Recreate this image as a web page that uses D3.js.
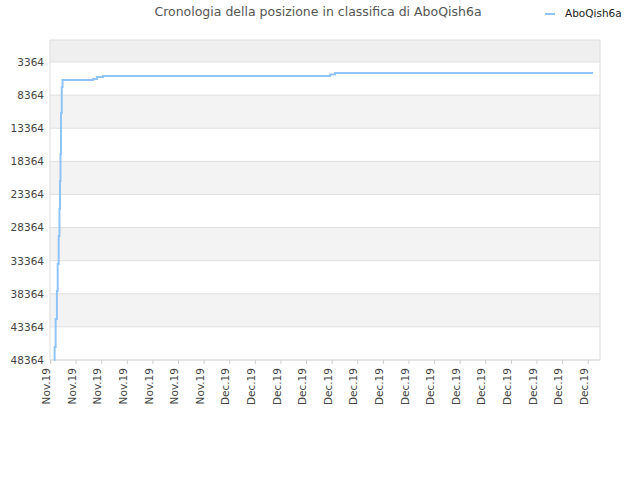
<!DOCTYPE html><html><head><script src="https://cdn.jsdelivr.net/npm/d3@7"></script>
<style>body{margin:0;background:#fff;font-family:"DejaVu Sans",sans-serif}</style></head><body><svg id="c" width="640" height="480"></svg>
<script>
const tickLabels=["Nov.19","Nov.19","Nov.19","Nov.19","Nov.19","Nov.19","Nov.19","Dec.19","Dec.19","Dec.19","Dec.19","Dec.19","Dec.19","Dec.19","Dec.19","Dec.19","Dec.19","Dec.19","Dec.19","Dec.19","Dec.19","Dec.19"];
const yTicks=[3364,8364,13364,18364,23364,28364,33364,38364,43364,48364];
const days=[0.16,0.18,0.2,0.22,0.25,0.27,0.3,0.34,0.37,0.39,0.41,0.43,0.46,0.49,0.5,0.53,0.55,1.64,1.68,1.84,2.07,10.78,10.94,11.13,21.21];
const ranks=[48364,46400,46400,42170,42170,37940,33870,29640,25560,21330,17250,11060,7140,6080,6080,6080,6080,6080,5930,5630,5480,5480,5250,5025,5025];
const svg=d3.select("#c");
const L=50,R=600,T=40,B=360;
const x=d3.scaleLinear().domain([0,21.48]).range([L,R]);
const y=d3.scaleLinear().domain([41,48364]).range([T,B]);
const edges=[41,...yTicks];
for(let i=0;i<edges.length-1;i++){
  if(i%2===0) svg.append("rect").attr("x",L).attr("width",R-L).attr("y",y(edges[i])).attr("height",y(edges[i+1])-y(edges[i])).attr("fill",i===0?"#efefef":"#f3f3f3");
}
yTicks.forEach(t=>svg.append("line").attr("x1",L).attr("x2",R).attr("y1",y(t)).attr("y2",y(t)).attr("stroke","#e0e0e0"));
svg.append("rect").attr("x",L).attr("y",T).attr("width",R-L).attr("height",B-T).attr("fill","none").attr("stroke","#ddd");
const ya=svg.append("g").attr("transform",`translate(${L},0)`).call(d3.axisLeft(y).tickValues(yTicks).tickSize(0).tickPadding(6).tickFormat(d3.format("d")));
ya.select(".domain").remove();
ya.selectAll("text").attr("font-size",10.5).attr("fill","#444").attr("font-family","DejaVu Sans");
const xa=svg.append("g").attr("transform",`translate(0,${B})`).call(d3.axisBottom(x).tickValues(d3.range(tickLabels.length)).tickSize(4).tickFormat(i=>tickLabels[i]));
xa.select(".domain").remove();
xa.selectAll("line").attr("stroke","#ccc");
xa.selectAll("text").attr("font-size",10.5).attr("fill","#444").attr("font-family","DejaVu Sans").attr("text-anchor","end").attr("transform","rotate(-90)").attr("x",-8).attr("y",-4).attr("dy","0.35em");
const pts=days.map((d,i)=>[d,ranks[i]]);
svg.append("path").datum(pts).attr("d",d3.line().x(d=>x(d[0])).y(d=>y(d[1])).curve(d3.curveStepAfter)).attr("fill","none").attr("stroke","#90c4f4").attr("stroke-width",2);
svg.append("text").attr("x",318).attr("y",16).attr("text-anchor","middle").attr("font-size",12.5).attr("fill","#555").text("Cronologia della posizione in classifica di AboQish6a");
svg.append("line").attr("x1",545).attr("x2",555).attr("y1",14).attr("y2",14).attr("stroke","#90c4f4").attr("stroke-width",2);
svg.append("text").attr("x",565).attr("y",17).attr("font-size",10.5).attr("fill","#222").text("AboQish6a");
</script></body></html>
